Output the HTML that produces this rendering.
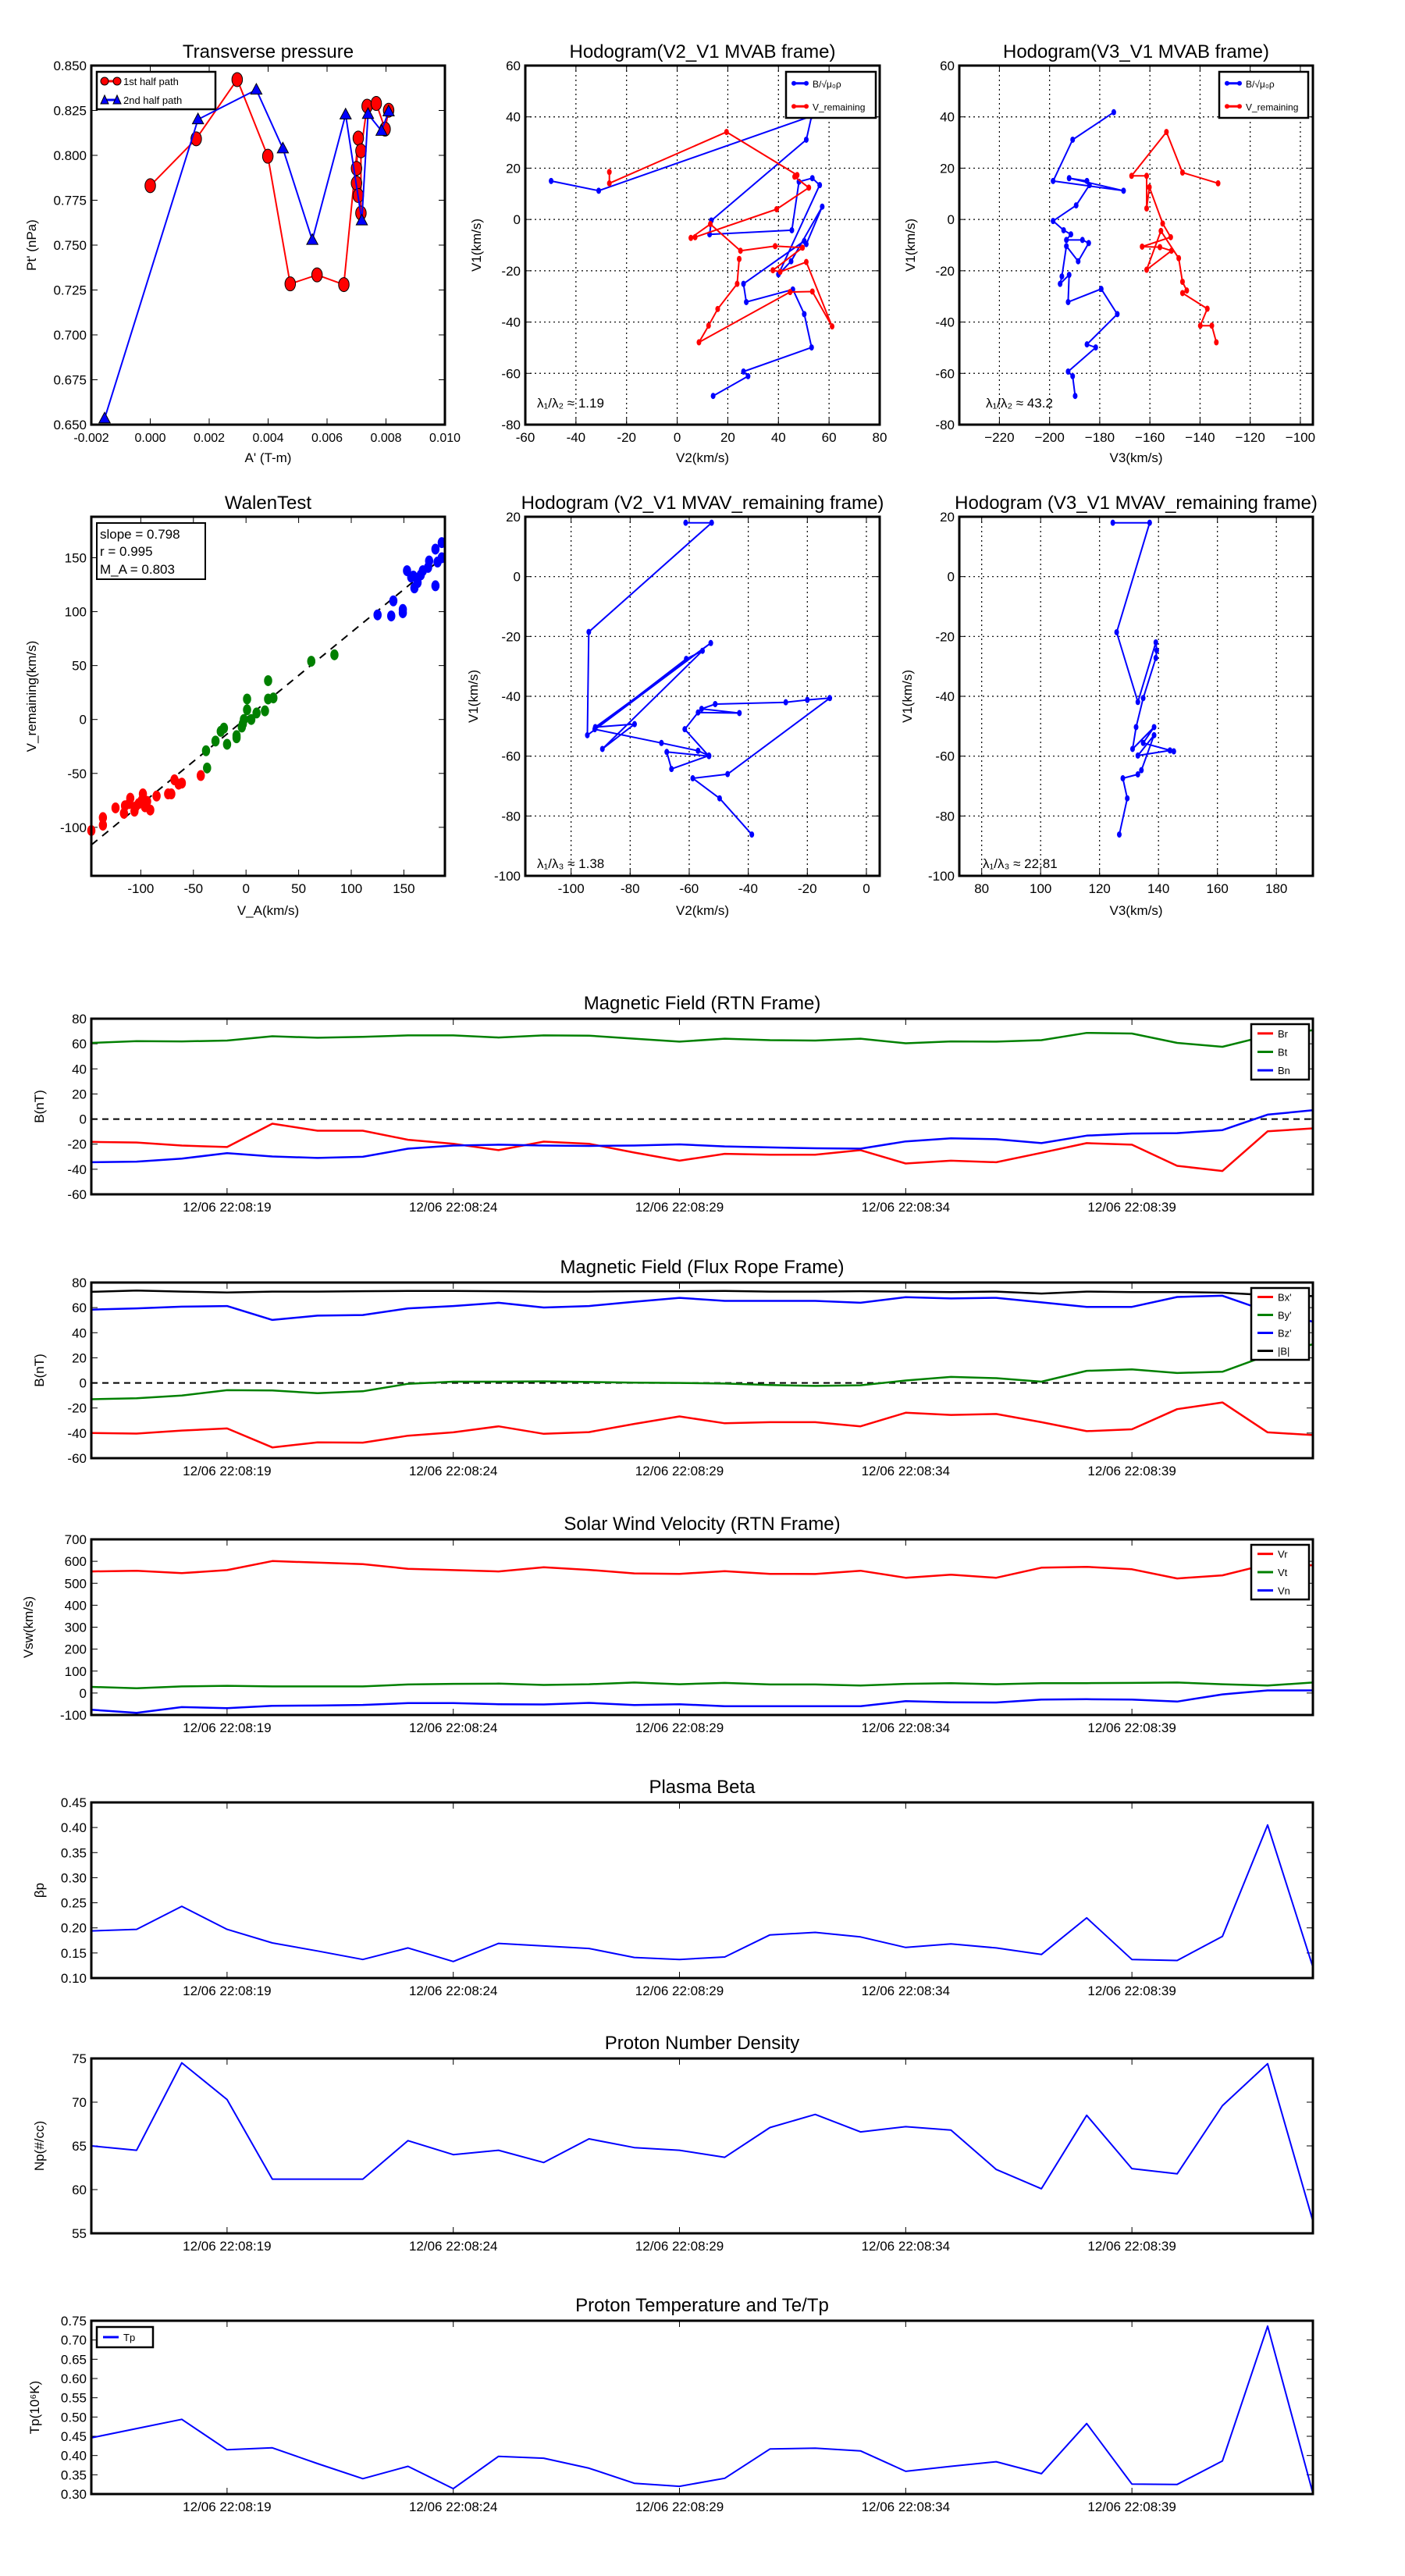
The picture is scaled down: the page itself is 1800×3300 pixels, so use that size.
<!DOCTYPE html>
<html><head><meta charset="utf-8"><style>
html,body{margin:0;padding:0;background:#fff;}
svg{display:block;font-family:"Liberation Sans",sans-serif;}
</style></head><body>
<svg id="fig" width="1800" height="3300" viewBox="0 0 1800 3300" xmlns="http://www.w3.org/2000/svg"></svg>
<script>
// ---------- DATA ----------
const tpRedX=[0.0000,0.00156,0.00295,0.00399,0.00475,0.00566,0.00657,0.00706,0.0070,0.0070,0.00706,0.00715,0.00715,0.00736,0.00767,0.00797,0.00809];
const tpRedY=[0.7831,0.8092,0.8422,0.7995,0.7284,0.7334,0.728,0.8096,0.7927,0.7845,0.7776,0.7678,0.8025,0.8274,0.8289,0.8146,0.8251];
const tpBlueX=[-0.00155,0.00162,0.0036,0.0045,0.0055,0.00663,0.00718,0.00739,0.00785,0.00809];
const tpBlueY=[0.6534,0.82,0.8365,0.8038,0.7528,0.8227,0.7637,0.823,0.8136,0.8244];

const h2BX=[-49.8,-31.0,53.1,51.0,13.5,12.8,45.3,48.1,53.4,56.3,40.0,45.0,57.3,51.0,50.2,26.2,27.3,45.7,50.2,53.1,26.2,28.0,14.2];
const h2BY=[15.0,11.2,40.3,31.1,-0.4,-5.8,-4.2,14.7,16.1,13.4,-21.4,-16.3,5.0,-9.6,-8.4,-25.1,-32.2,-27.3,-36.9,-49.9,-59.3,-61.1,-68.8];
const h2RX=[-26.8,-26.8,19.5,47.4,46.4,52.0,39.3,7.1,5.4,13.1,25.0,38.7,49.5,37.8,40.7,51.0,61.2,53.4,44.6,8.6,12.4,16.0,23.7,24.5];
const h2RY=[18.5,14.1,34.1,17.3,16.7,12.4,4.0,-6.9,-7.2,-1.8,-12.2,-10.4,-11.0,-19.8,-20.4,-16.6,-41.7,-28.1,-28.3,-47.9,-41.4,-34.9,-25.1,-15.4];

const h3BX=[-174.4,-190.8,-198.6,-170.5,-192.2,-185.1,-184.1,-189.4,-198.6,-194.4,-191.5,-193.3,-186.9,-184.4,-188.6,-193.3,-195.1,-195.8,-192.2,-192.6,-179.4,-173.0,-185.1,-181.6,-192.6,-190.8,-189.8];
const h3BY=[41.8,31.1,15.0,11.2,16.1,15.0,13.4,5.5,-0.6,-4.2,-5.8,-8.0,-8.0,-9.2,-16.3,-10.4,-22.2,-25.1,-21.6,-32.2,-27.1,-36.9,-48.7,-49.9,-59.3,-61.1,-68.8];
const h3RX=[-132.8,-147.0,-153.4,-167.3,-161.3,-161.3,-160.2,-154.9,-151.7,-163.1,-156.0,-151.4,-161.3,-155.6,-148.5,-147.0,-145.3,-147.0,-137.1,-139.9,-135.3,-133.5];
const h3RY=[14.1,18.3,34.1,17.0,17.0,4.3,12.6,-1.6,-6.9,-10.6,-10.8,-12.2,-19.6,-4.5,-15.1,-24.3,-27.7,-28.7,-34.8,-41.4,-41.4,-47.9];

const wRedX=[-147,-136,-136,-124,-116,-115,-110,-106,-102,-98,-94,-91,-85,-74,-71,-68,-61,-64,-43,-105,-99,-111,-96];
const wRedY=[-103,-91,-98,-82,-87,-80,-73,-85,-78,-69,-76,-84,-71,-69,-69,-56,-59,-60,-52,-81,-75,-78,-81];
const wGreenX=[-37,-38,-29,-18,-24,-21,-9,-4,-2,1,1,5,10,18,21,26,21,62,84,-9,-3];
const wGreenY=[-45,-29,-20,-23,-11,-8,-15,-7,0,9,19,0,6,8,19,20,36,54,60,-17,-4];
const wBlueX=[125,138,140,149,149,153,160,163,159,166,173,174,180,180,182,186,186,168,157];
const wBlueY=[97,96,110,102,99,138,122,127,133,134,141,147,124,158,146,164,150,138,132];
const walenSlope=[0.798];

const v2X=[-61.2,-52.4,-94,-94.5,-52.7,-91.8,-78.5,-89.4,-55.5,-61,-92,-69.4,-57,-53.3,-66,-67.6,-53.3,-61.5,-57,-43,-55.8,-51.2,-27.3,-20,-12.4,-47,-58.8,-49.7,-38.8];
const v2Y=[18,18,-18.5,-53,-22.2,-50.3,-49.3,-57.6,-24.8,-27.5,-51,-55.6,-58.2,-59.8,-64.3,-58.6,-60,-51,-45.4,-45.6,-44.2,-42.6,-42,-41.2,-40.6,-66,-67.4,-74.1,-86.2];
const v3X=[124.5,137,125.8,133,139.1,139.4,139.1,134.8,132.4,131.2,138.5,134.8,145.2,143.9,133,138.5,134.2,133,127.9,129.4,126.7];
const v3Y=[18,18,-18.6,-41.9,-22,-24.7,-27.2,-40.6,-50.3,-57.6,-50.3,-55.6,-58.4,-58.1,-59.8,-53,-64.7,-66.1,-67.4,-74.1,-86.2];

const timeLabels=["12/06 22:08:19","12/06 22:08:24","12/06 22:08:29","12/06 22:08:34","12/06 22:08:39"];
const timeTickIdx=[3,8,13,18,23];
const Br=[-18.2,-18.7,-21.1,-22.3,-3.7,-9.3,-9.3,-16.5,-19.7,-24.8,-18,-19.7,-26.7,-33.2,-27.7,-28.4,-28.4,-24.8,-35.4,-33.2,-34.4,-26.9,-19.2,-20.4,-37.3,-41.4,-9.8,-7.4];
const Bt=[60.7,62.1,61.9,62.6,66,64.8,65.5,66.7,66.7,65,66.7,66.5,64.1,61.7,64.1,62.9,62.6,64.1,60.4,61.9,61.7,62.9,68.7,68.2,60.7,57.6,66.5,70.8];
const Bn=[-34.4,-33.9,-31.5,-27.2,-29.8,-31,-30.1,-23.6,-21.1,-20.4,-21.1,-21.4,-21.1,-20.2,-21.8,-22.6,-23.3,-23.6,-17.8,-15.3,-16.1,-19.2,-13.2,-11.5,-11.2,-8.8,3.5,7];
const Bx=[-39.9,-40.4,-38,-36.3,-51.4,-47.4,-47.6,-42.1,-39.4,-34.6,-40.6,-39.2,-32.7,-26.7,-32.2,-31.3,-31.3,-34.6,-23.8,-25.5,-24.8,-31.3,-38.5,-37,-20.9,-15.6,-39.4,-41.6];
const By=[-13,-12.3,-10.1,-5.8,-6,-8.2,-6.7,-0.7,1,1,1.2,0.7,0.2,0,-0.5,-1.7,-2.4,-1.9,1.9,4.8,3.8,1,9.6,10.8,7.9,8.9,22,30.8];
const Bz=[58.4,59.4,60.8,61.3,50.2,53.6,54.1,59.4,61.3,63.9,60.1,61.3,64.7,67.8,65.4,65.4,65.4,63.9,68.3,67.3,67.8,64.2,60.6,60.6,68.5,69.5,57,48.8];
const Bmag=[72.6,73.6,72.8,72.1,72.8,72.8,73.1,73.3,73.3,73.1,72.8,72.8,73.1,73.1,73.3,72.8,72.8,73.1,72.8,72.4,72.8,71.2,72.8,72.4,72.4,71.9,70,69.2];
const Vr=[554,557,546,560,601,594,587,566,560,554,573,561,545,543,555,543,542,557,525,539,525,571,575,564,522,536,587,582];
const Vt=[28,22,30,33,30,30,30,39,42,43,37,40,48,40,46,39,39,34,42,45,40,45,45,46,48,40,34,48];
const Vn=[-76,-90,-64,-69,-58,-57,-54,-46,-46,-51,-52,-45,-55,-51,-60,-60,-60,-60,-37,-42,-43,-30,-28,-30,-39,-6,12,12];
const beta=[0.194,0.197,0.243,0.197,0.170,0.154,0.137,0.160,0.133,0.169,0.164,0.159,0.141,0.137,0.142,0.186,0.191,0.182,0.161,0.168,0.160,0.147,0.220,0.137,0.135,0.183,0.405,0.122];
const Np=[65,64.5,74.5,70.3,61.2,61.2,61.2,65.6,64,64.5,63.1,65.8,64.8,64.5,63.7,67.1,68.6,66.6,67.2,66.8,62.3,60.1,68.5,62.4,61.8,69.6,74.4,56.4];
const Tp=[0.446,0.470,0.494,0.415,0.420,0.379,0.340,0.372,0.314,0.398,0.393,0.367,0.328,0.320,0.341,0.417,0.419,0.412,0.359,0.372,0.384,0.353,0.483,0.326,0.325,0.386,0.736,0.302];

// ---------- HELPERS ----------
const NS="http://www.w3.org/2000/svg";
const svg=document.getElementById('fig');
function mk(tag,attrs,parent){const e=document.createElementNS(NS,tag);for(const k in attrs)e.setAttribute(k,attrs[k]);(parent||svg).appendChild(e);return e;}
function txt(s,x,y,size,anchor,parent,extra){const t=mk('text',Object.assign({x:x,y:y,'font-size':size,'text-anchor':anchor||'middle',fill:'#000'},extra||{}),parent);t.textContent=s;return t;}
const BLUE='#0000ff',RED='#ff0000',GREEN='#008000';

function panel(name,L,R,T,B,xmin,xmax,ymin,ymax){
  const g=mk('g',{});
  
  
  const sx=v=>L+(v-xmin)/(xmax-xmin)*(R-L);
  const sy=v=>B-(v-ymin)/(ymax-ymin)*(B-T);
  return {g,sx,sy,L,R,T,B};
}
function frame(p){
  const f=mk('rect',{x:p.L,y:p.T,width:p.R-p.L,height:p.B-p.T,fill:'none',stroke:'#000','stroke-width':3},p.g);
  
  
}
function xticks(p,vals,labels,grid,fs){
  vals.forEach((v,i)=>{const x=p.sx(v);
    if(grid) mk('line',{x1:x,y1:p.T,x2:x,y2:p.B,stroke:'#000','stroke-width':1.2,'stroke-dasharray':'2,4'},p.g);
    mk('line',{x1:x,y1:p.B,x2:x,y2:p.B-8,stroke:'#000','stroke-width':1},p.g);
    mk('line',{x1:x,y1:p.T,x2:x,y2:p.T+8,stroke:'#000','stroke-width':1},p.g);
    const t=txt(labels[i],x,p.B+22,fs||17,'middle',p.g);
    
    
  });
}
function yticks(p,vals,labels,grid){
  vals.forEach((v,i)=>{const y=p.sy(v);
    if(grid) mk('line',{x1:p.L,y1:y,x2:p.R,y2:y,stroke:'#000','stroke-width':1.2,'stroke-dasharray':'2,4'},p.g);
    mk('line',{x1:p.L,y1:y,x2:p.L+8,y2:y,stroke:'#000','stroke-width':1},p.g);
    mk('line',{x1:p.R,y1:y,x2:p.R-8,y2:y,stroke:'#000','stroke-width':1},p.g);
    const t=txt(labels[i],p.L-6,y+6,17,'end',p.g);
    
    
  });
}
function title(p,s,y){const t=txt(s,(p.L+p.R)/2,y,24,'middle',p.g);return t;}
function xlabel(p,s,y){const t=txt(s,(p.L+p.R)/2,y,17,'middle',p.g);return t;}
function ylabel(p,s,x){const cy=(p.T+p.B)/2;const t=txt(s,x,cy,17,'middle',p.g,{transform:`rotate(-90 ${x} ${cy})`});return t;}
function line(p,xs,ys,color,w,name,clip){
  const d=xs.map((x,i)=>(i?'L':'M')+p.sx(x).toFixed(1)+','+p.sy(ys[i]).toFixed(1)).join('');
  const el=mk('path',{d:d,fill:'none',stroke:color,'stroke-width':w||2,'stroke-linejoin':'round'},p.g);
  if(clip) el.setAttribute('clip-path','url(#'+clip+')');
  
  
  return el;
}
function dots(p,xs,ys,color,r,name,shape){
  xs.forEach((x,i)=>{const cx=p.sx(x),cy=p.sy(ys[i]);let el;
    if(shape==='tri') el=mk('polygon',{points:`${cx},${cy-r} ${cx-r*0.9},${cy+r*0.7} ${cx+r*0.9},${cy+r*0.7}`,fill:color,stroke:'#000','stroke-width':1},p.g);
    else el=mk('ellipse',{cx:cx,cy:cy,rx:r*0.75,ry:r,fill:color,stroke:shape==='edge'?'#000':'none','stroke-width':1},p.g);
    
    
  });
}
function range(a,b,s){const r=[];for(let v=a;v<=b+1e-9;v+=s)r.push(+v.toFixed(6));return r;}
function clip(id,p){const c=mk('clipPath',{id:id});mk('rect',{x:p.L,y:p.T,width:p.R-p.L,height:p.B-p.T},c);}
function legend(p,x,y,w,h,items,fs){
  const lg=mk('g',{},p.g);
  
  
  mk('rect',{x:x,y:y,width:w,height:h,fill:'#fff',stroke:'#000','stroke-width':2.5},lg);
  const step=h/items.length;
  items.forEach((it,i)=>{const cy=y+step*(i+0.5);
    const e=mk('g',{},lg);
    
    
    mk('line',{x1:x+8,y1:cy,x2:x+28,y2:cy,stroke:it.c,'stroke-width':3},e);
    if(it.m==='o'){mk('circle',{cx:x+10,cy:cy,r:5,fill:it.c,stroke:'#000'},e);mk('circle',{cx:x+26,cy:cy,r:5,fill:it.c,stroke:'#000'},e);}
    if(it.m==='^'){[x+10,x+26].forEach(cx=>mk('polygon',{points:`${cx},${cy-6} ${cx-5},${cy+5} ${cx+5},${cy+5}`,fill:it.c,stroke:'#000'},e));}
    if(it.m==='.'){mk('circle',{cx:x+10,cy:cy,r:3,fill:it.c},e);mk('circle',{cx:x+26,cy:cy,r:3,fill:it.c},e);}
    txt(it.t,x+34,cy+5,fs||14,'start',e);
  });
}

// ---------- ROW 1 ----------
let p=panel('transverse-pressure-chart',117,570,84,544,-0.002,0.010,0.65,0.85);
xticks(p,range(-0.002,0.010,0.002),range(-0.002,0.010,0.002).map(v=>v.toFixed(3)),false,16);
yticks(p,range(0.65,0.85,0.025),range(0.65,0.85,0.025).map(v=>v.toFixed(3)),false);
title(p,'Transverse pressure',74);xlabel(p,"A' (T-m)",592);ylabel(p,"Pt' (nPa)",46);
line(p,tpRedX,tpRedY,RED,2,'first-half-path-line');
dots(p,tpRedX,tpRedY,RED,9,'first-half-point','edge');
line(p,tpBlueX,tpBlueY,BLUE,2,'second-half-path-line');
dots(p,tpBlueX,tpBlueY,BLUE,8,'second-half-point','tri');
legend(p,124,92,152,48,[{c:RED,m:'o',t:'1st half path'},{c:BLUE,m:'^',t:'2nd half path'}],13);
frame(p);

p=panel('hodogram-v2-v1-mvab',673,1127,84,544,-60,80,-80,60);
xticks(p,range(-60,80,20),range(-60,80,20).map(String),true);
yticks(p,range(-80,60,20),range(-80,60,20).map(String),true);
clip('c2',p);
title(p,'Hodogram(V2_V1 MVAB frame)',74);xlabel(p,'V2(km/s)',592);ylabel(p,'V1(km/s)',616);
line(p,h2BX,h2BY,BLUE,2,'b-hodogram-line','c2');dots(p,h2BX,h2BY,BLUE,4,'b-hodogram-point');
line(p,h2RX,h2RY,RED,2,'v-remaining-line','c2');dots(p,h2RX,h2RY,RED,4,'v-remaining-point');
legend(p,1007,92,115,59,[{c:BLUE,m:'.',t:'B/√μ₀ρ'},{c:RED,m:'.',t:'V_remaining'}],12);
txt('λ₁/λ₂ ≈ 1.19',688,522,17,'start',p.g);
frame(p);

p=panel('hodogram-v3-v1-mvab',1229,1682,84,544,-236,-95,-80,60);
xticks(p,range(-220,-100,20),range(-220,-100,20).map(v=>'−'+Math.abs(v)),true);
yticks(p,range(-80,60,20),range(-80,60,20).map(String),true);
clip('c3',p);
title(p,'Hodogram(V3_V1 MVAB frame)',74);xlabel(p,'V3(km/s)',592);ylabel(p,'V1(km/s)',1172);
line(p,h3BX,h3BY,BLUE,2,'b-hodogram-line','c3');dots(p,h3BX,h3BY,BLUE,4,'b-hodogram-point');
line(p,h3RX,h3RY,RED,2,'v-remaining-line','c3');dots(p,h3RX,h3RY,RED,4,'v-remaining-point');
legend(p,1562,92,114,59,[{c:BLUE,m:'.',t:'B/√μ₀ρ'},{c:RED,m:'.',t:'V_remaining'}],12);
txt('λ₁/λ₂ ≈ 43.2',1263,522,17,'start',p.g);
frame(p);

// ---------- ROW 2 ----------
p=panel('walen-test-chart',117,570,662,1122,-147,189,-145,188);
xticks(p,range(-100,150,50),range(-100,150,50).map(String));
yticks(p,range(-100,150,50),range(-100,150,50).map(String));
clip('cw',p);
title(p,'WalenTest',652);xlabel(p,'V_A(km/s)',1172);ylabel(p,'V_remaining(km/s)',46);
const wlx=[-147,189];const wly=wlx.map(v=>walenSlope[0]*v+1);
const wl=line(p,wlx,wly,'#000',2,'walen-fit-line','cw');wl.setAttribute('stroke-dasharray','10,8');
dots(p,wRedX,wRedY,RED,7,'walen-point-red');
dots(p,wGreenX,wGreenY,GREEN,7,'walen-point-green');
dots(p,wBlueX,wBlueY,BLUE,7,'walen-point-blue');
const wb=mk('g',{},p.g);
mk('rect',{x:124,y:670,width:139,height:72,fill:'#fff',stroke:'#000','stroke-width':2},wb);
txt('slope = 0.798',128,690,17,'start',wb);txt('r = 0.995',128,712,17,'start',wb);txt('M_A = 0.803',128,735,17,'start',wb);
frame(p);

p=panel('hodogram-v2-v1-mvav',673,1127,662,1122,-115.5,4.5,-100,20);
xticks(p,range(-100,0,20),range(-100,0,20).map(String),true);
yticks(p,range(-100,20,20),range(-100,20,20).map(String),true);
title(p,'Hodogram (V2_V1 MVAV_remaining frame)',652);xlabel(p,'V2(km/s)',1172);ylabel(p,'V1(km/s)',612);
line(p,v2X,v2Y,BLUE,2,'mvav-hodogram-line');dots(p,v2X,v2Y,BLUE,4,'mvav-hodogram-point');
txt('λ₁/λ₃ ≈ 1.38',688,1112,17,'start',p.g);
frame(p);

p=panel('hodogram-v3-v1-mvav',1229,1682,662,1122,72.4,192.4,-100,20);
xticks(p,range(80,180,20),range(80,180,20).map(String),true);
yticks(p,range(-100,20,20),range(-100,20,20).map(String),true);
title(p,'Hodogram (V3_V1 MVAV_remaining frame)',652);xlabel(p,'V3(km/s)',1172);ylabel(p,'V1(km/s)',1168);
line(p,v3X,v3Y,BLUE,2,'mvav-hodogram-line');dots(p,v3X,v3Y,BLUE,4,'mvav-hodogram-point');
txt('λ₁/λ₃ ≈ 22.81',1259,1112,17,'start',p.g);
frame(p);

// ---------- TIME SERIES ----------
const idx=Br.map((_,i)=>i);
function tpanel(name,T,B,ymin,ymax,ystep,dec,ttl,yl,ylx,zero){
  const q=panel(name,117,1682,T,B,0,27,ymin,ymax);
  xticks(q,timeTickIdx,timeLabels);
  const yv=range(ymin,ymax,ystep);
  yticks(q,yv,yv.map(v=>v.toFixed(dec)));
  title(q,ttl,T-12);ylabel(q,yl,ylx||56);
  if(zero){const z=mk('line',{x1:q.L,y1:q.sy(0),x2:q.R,y2:q.sy(0),stroke:'#000','stroke-width':2,'stroke-dasharray':'8,6'},q.g);}
  return q;
}
p=tpanel('magnetic-field-rtn-chart',1305,1530,-60,80,20,0,'Magnetic Field (RTN Frame)','B(nT)',56,true);
line(p,idx,Br,RED,2.5,'series-br');line(p,idx,Bt,GREEN,2.5,'series-bt');line(p,idx,Bn,BLUE,2.5,'series-bn');
legend(p,1603,1312,74,71,[{c:RED,t:'Br'},{c:GREEN,t:'Bt'},{c:BLUE,t:'Bn'}],13);frame(p);

p=tpanel('magnetic-field-flux-rope-chart',1643,1868,-60,80,20,0,'Magnetic Field (Flux Rope Frame)','B(nT)',56,true);
line(p,idx,Bx,RED,2.5,'series-bx');line(p,idx,By,GREEN,2.5,'series-by');line(p,idx,Bz,BLUE,2.5,'series-bz');line(p,idx,Bmag,'#000',2.5,'series-bmag');
legend(p,1603,1650,74,92,[{c:RED,t:"Bx'"},{c:GREEN,t:"By'"},{c:BLUE,t:"Bz'"},{c:'#000',t:'|B|'}],13);frame(p);

p=tpanel('solar-wind-velocity-chart',1972,2197,-100,700,100,0,'Solar Wind Velocity (RTN Frame)','Vsw(km/s)',42,false);
line(p,idx,Vr,RED,2.5,'series-vr');line(p,idx,Vt,GREEN,2.5,'series-vt');line(p,idx,Vn,BLUE,2.5,'series-vn');
legend(p,1603,1979,74,70,[{c:RED,t:'Vr'},{c:GREEN,t:'Vt'},{c:BLUE,t:'Vn'}],13);frame(p);

p=tpanel('plasma-beta-chart',2309,2534,0.10,0.45,0.05,2,'Plasma Beta','βp',56,false);
line(p,idx,beta,BLUE,2,'series-beta');frame(p);

p=tpanel('proton-density-chart',2637,2861,55,75,5,0,'Proton Number Density','Np(#/cc)',56,false);
line(p,idx,Np,BLUE,2,'series-np');frame(p);

p=tpanel('proton-temperature-chart',2973,3195,0.30,0.75,0.05,2,'Proton Temperature and Te/Tp','Tp(10⁶K)',50,false);
line(p,idx,Tp,BLUE,2,'series-tp');
legend(p,124,2981,72,26,[{c:BLUE,t:'Tp'}],13);frame(p);
</script>
</body></html>
